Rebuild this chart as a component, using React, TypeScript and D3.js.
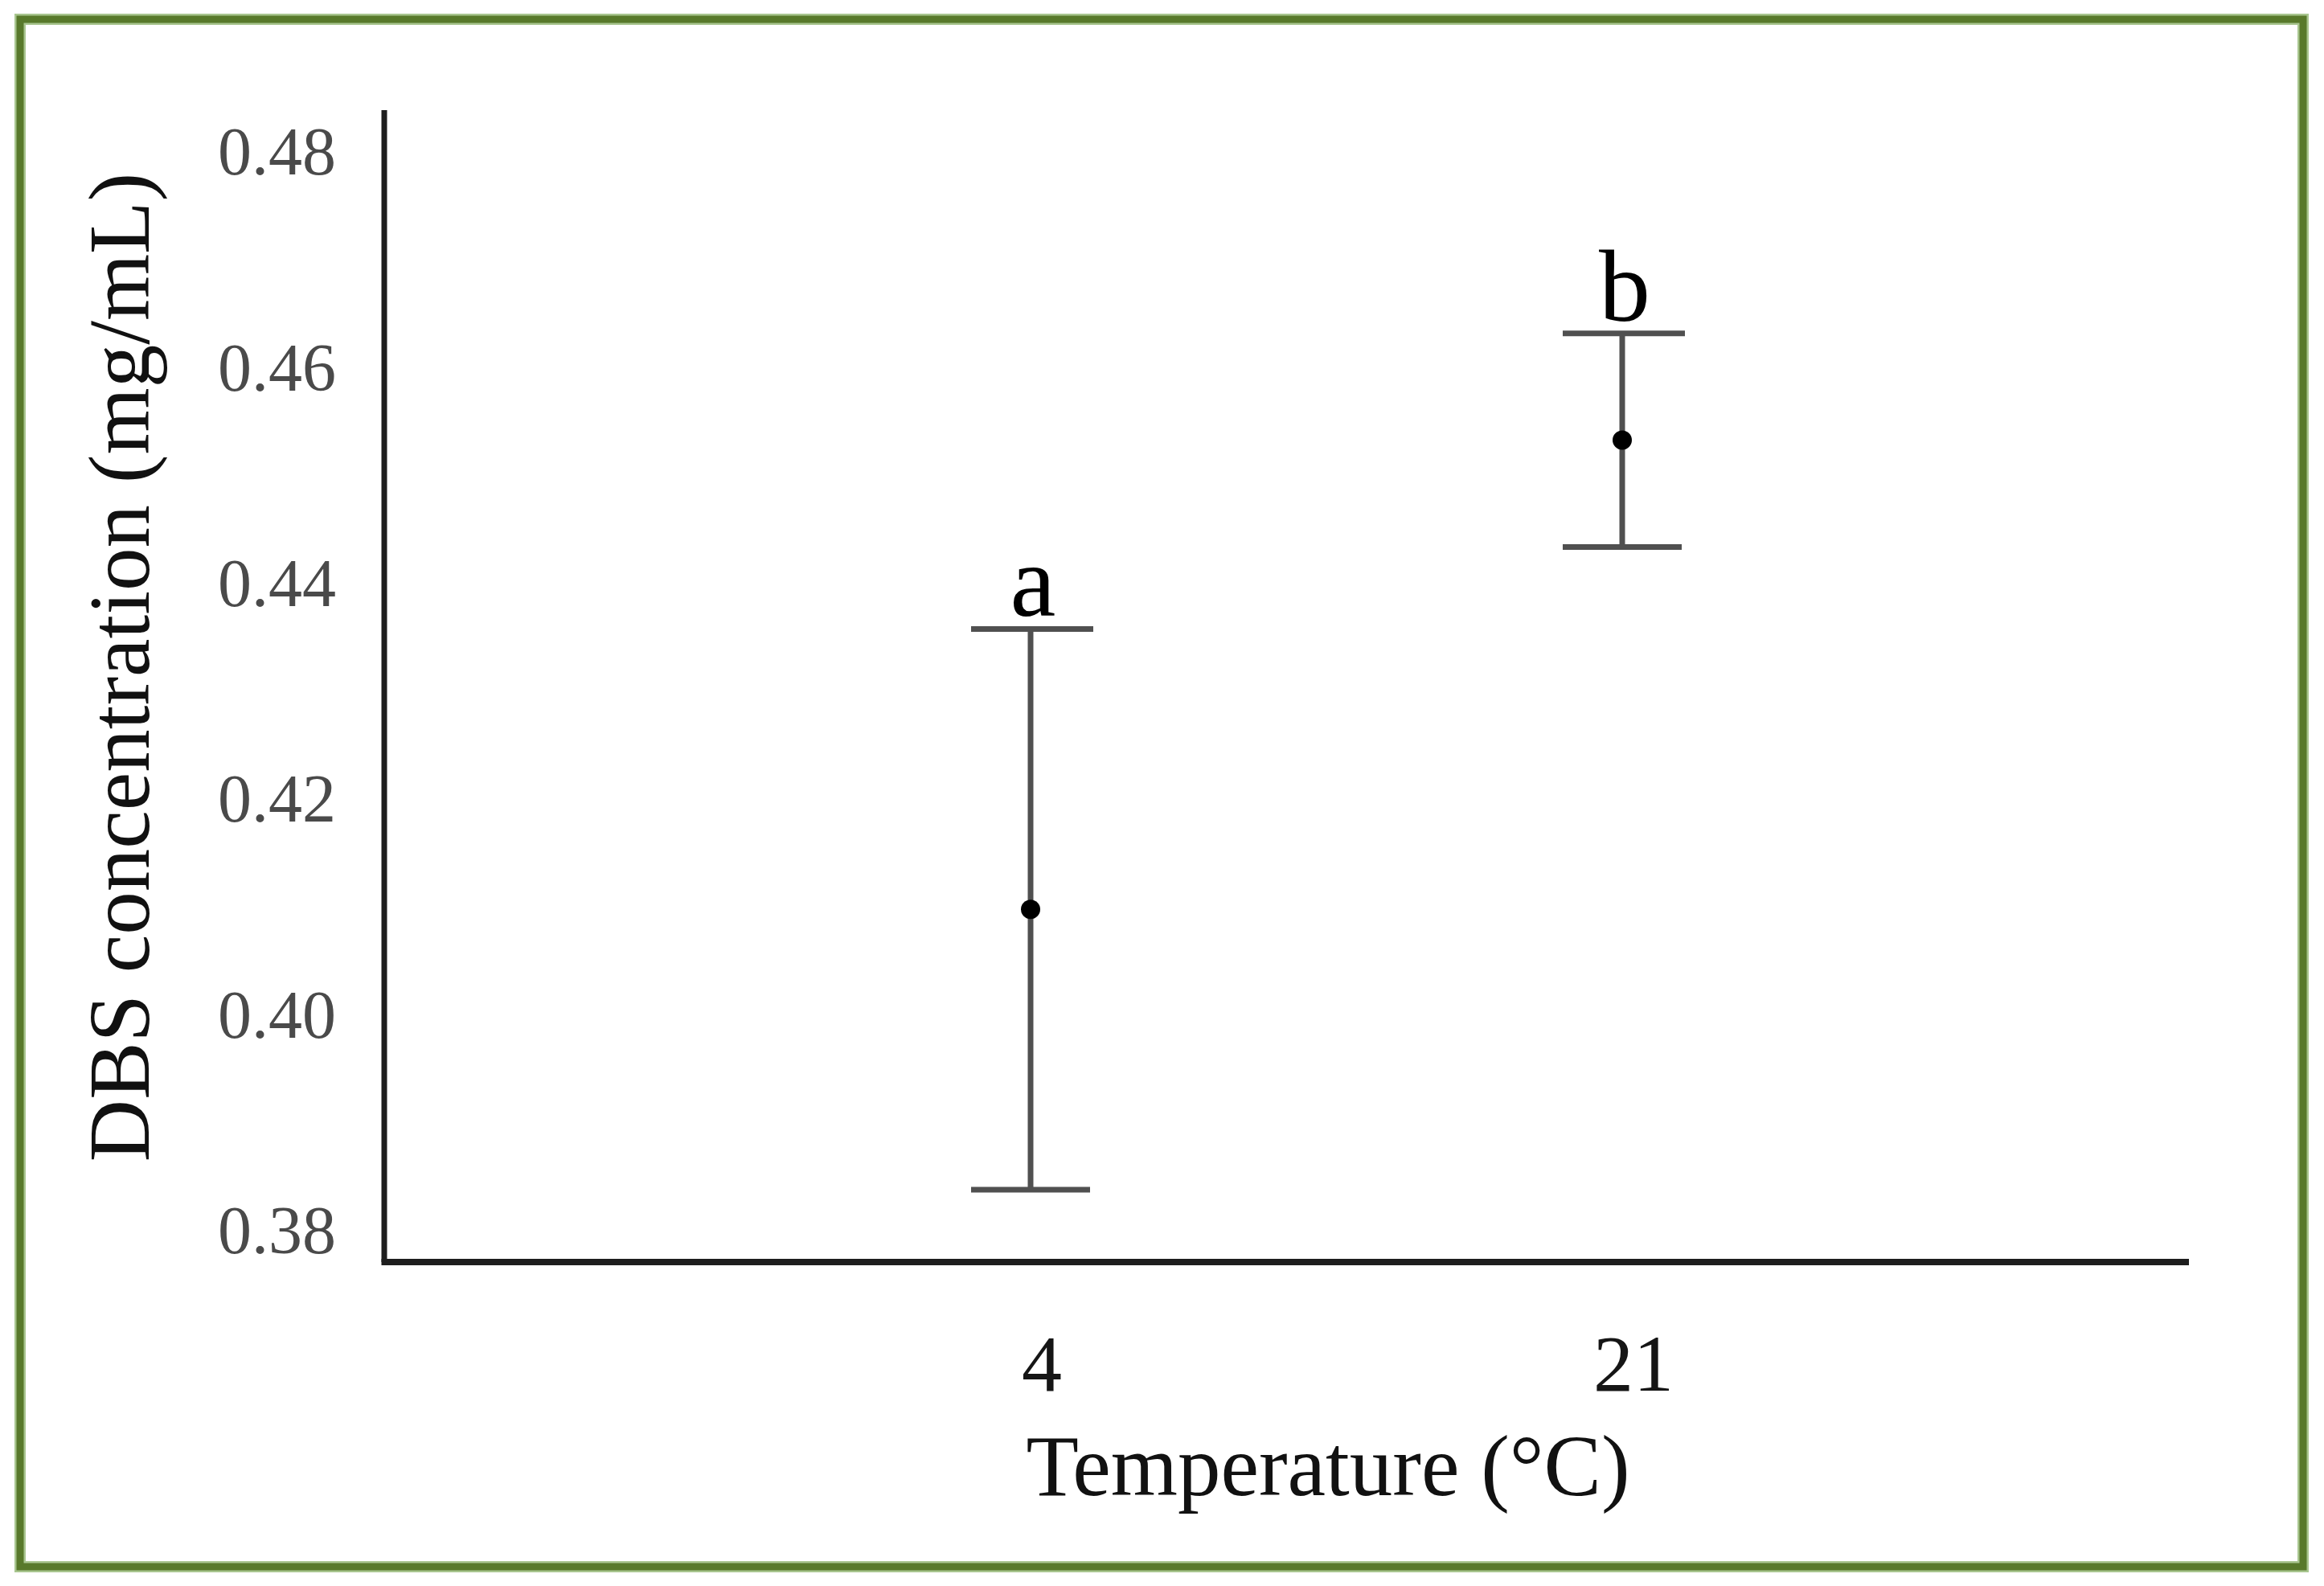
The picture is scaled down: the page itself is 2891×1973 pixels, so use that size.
import React from "react";
import * as d3 from "d3";

// ---- data ----
const categories: string[] = ["4", "21"];
const means: number[] = [0.4097, 0.4532];
const errors: number[] = [0.026, 0.0099];
const letters: string[] = ["a", "b"];
const yTicks: number[] = [0.38, 0.4, 0.42, 0.44, 0.46, 0.48];
const yTitle = "DBS concentration (mg/mL)";
const xTitle = "Temperature (°C)";

const W = 2891;
const H = 1973;

export default function App() {
  const axisLeft = 478;
  const axisRight = 2723;
  const axisBottom = 1570;
  const axisTop = 137;

  const y = d3.scaleLinear().domain([0.377, 0.4838]).range([axisBottom, axisTop]);
  const x = d3.scalePoint<string>().domain(categories).range([1282, 2018]);

  const serif = "'Liberation Serif', 'Times New Roman', serif";
  const capHalf = 74;
  const errColor = "#505050";

  return (
    <svg
      width={W}
      height={H}
      viewBox={`0 0 ${W} ${H}`}
      style={{ position: "absolute", left: 0, top: 0, background: "#fff" }}
    >
      <rect x={0} y={0} width={W} height={H} fill="#ffffff" />
      {/* green frame */}
      <rect x={25} y={24} width={2840} height={1925} fill="none" stroke="#a9c690" strokeWidth={14} />
      <rect x={25} y={24} width={2840} height={1925} fill="none" stroke="#58792b" strokeWidth={9} />

      {/* axes */}
      <line x1={axisLeft} y1={axisTop} x2={axisLeft} y2={axisBottom} stroke="#1e1e1e" strokeWidth={7} />
      <line x1={axisLeft - 3.5} y1={axisBottom} x2={axisRight} y2={axisBottom} stroke="#1e1e1e" strokeWidth={8} />

      {/* y tick labels */}
      {yTicks.map((t) => (
        <text
          key={t}
          x={418}
          y={y(t)}
          dy="0.35em"
          textAnchor="end"
          fontFamily={serif}
          fontSize={84}
          fill="#4a4a4a"
        >
          {d3.format(".2f")(t)}
        </text>
      ))}

      {/* x tick labels */}
      {categories.map((c) => (
        <text
          key={c}
          x={(x(c) as number) + 14}
          y={1730}
          textAnchor="middle"
          fontFamily={serif}
          fontSize={100}
          fill="#151515"
        >
          {c}
        </text>
      ))}

      {/* error bars */}
      {categories.map((c, i) => {
        const cx = x(c) as number;
        const hi = y(means[i] + errors[i]);
        const lo = y(means[i] - errors[i]);
        return (
          <g key={c}>
            <line x1={cx} y1={hi} x2={cx} y2={lo} stroke={errColor} strokeWidth={7} />
            <line x1={cx - capHalf} y1={hi} x2={cx + capHalf + 4} y2={hi} stroke={errColor} strokeWidth={7} />
            <line x1={cx - capHalf} y1={lo} x2={cx + capHalf} y2={lo} stroke={errColor} strokeWidth={7} />
            <circle cx={cx} cy={y(means[i])} r={12} fill="#000" />
            <text
              x={cx + 3}
              y={hi - 16}
              textAnchor="middle"
              fontFamily={serif}
              fontSize={128}
              fill="#000"
            >
              {letters[i]}
            </text>
          </g>
        );
      })}

      {/* titles */}
      <text
        transform={`translate(185, 830) rotate(-90)`}
        textAnchor="middle"
        fontFamily={serif}
        fontSize={107}
        fill="#111"
      >
        {yTitle}
      </text>
      <text x={1652} y={1860} textAnchor="middle" fontFamily={serif} fontSize={107} fill="#111">
        {xTitle}
      </text>
    </svg>
  );
}
